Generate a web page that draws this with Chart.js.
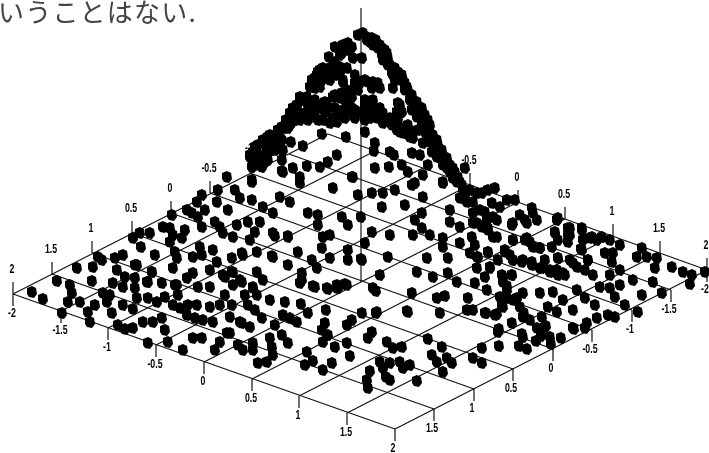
<!DOCTYPE html>
<html><head><meta charset="utf-8">
<style>
html,body{margin:0;padding:0;background:#fff;width:709px;height:453px;overflow:hidden}
#wrap{position:relative;width:709px;height:453px}
#cap{position:absolute;left:-2px;top:-5px;font:400 26px/32px "Noto Sans CJK JP",serif;letter-spacing:1.2px;color:#444;white-space:nowrap;z-index:2}
canvas{display:block}
</style>
<script src="https://cdn.jsdelivr.net/npm/chart.js@4"></script>
</head><body><div id="wrap"><div id="cap">いうことはない.</div><canvas id="c" width="709" height="453"></canvas></div>
<script>
const frontLeftEdge=[[13,294],[61,311],[108,328],[156,345],[204,362],[252,379],[299,396],[347,413],[395,429]];
const backRightEdge=[[328,134],[375,151],[423,168],[470,185],[518,202],[565,219],[613,236],[660,253],[707,270]];
const backLeftEdge=[[13,294],[52,274],[92,253],[132,233],[171,213],[210,193],[250,173],[289,154],[328,134]];
const frontRightEdge=[[395,429],[434,409],[474,389],[513,369],[553,349],[592,330],[632,310],[671,290],[707,270]];
const zAxis=[[361,8],[361,282]];
const frontLeftLabels=["-2","-1.5","-1","-0.5","0","0.5","1","1.5",""];
const frontRightLabels=["2","1.5","1","0.5","0","-0.5","-1","-1.5","-2"];
const backLeftLabels=["2","1.5","1","0.5","0","-0.5","-1","",""];
const backRightLabels=["","","","-0.5","0","0.5","1","1.5","2"];
// Scatter marks, in plane coordinates
const peakDots=[[363,33],[367,37],[370,42],[376,40],[380,45],[385,50],[382,55],[387,62],[390,65],[393,75],[402,75],[405,83],[408,90],[417,102],[420,113],[425,122],[430,132],[437,140],[442,150],[447,158],[453,168],[458,177],[465,168],[435,145],[453,178],[460,182],
[343,45],[338,48],[348,43],[342,53],[329,57],[353,58],[362,58],
[320,70],[330,68],[340,67],[315,78],[312,85],[320,87],[328,78],[347,68],[355,75],[343,82],[355,88],[335,95],[347,90],[345,100],[365,80],[368,82],[378,83],[372,88],[365,100],[393,88],
[253,152],[257,162],[252,167],[262,167],[265,142],[268,153],[275,135],[277,147],[282,127],[282,150],[290,113],[295,120],[288,128],[300,100],[300,113],[307,103],[310,115],[320,105],[325,102],[318,120],[330,123],[328,108],[338,115],[343,110],[352,108],[358,112],[365,115],[372,103],[375,108],[380,115],[385,120],[392,125],[400,132],[410,137],[365,132],[400,105],[398,118],[407,127],[412,110],[420,115],[422,125],[418,130],[428,135],
[322,134],[346,137],[291,142],[303,146],[337,155],[282,160],[282,171],[293,168],[307,166],[320,167],[328,162],[300,177],[353,177],[375,143],[374,151],[375,168],[389,167],[390,152],[394,155],[402,165],[412,153],[420,155],[428,165],[408,172],[423,175],[443,182],[415,183],[252,180]];
const ridgeDots=[[253,165],[260,158],[267,150],[272,142],[278,137],[285,128],[292,122],[298,115],[305,113],[315,115],[323,120],[333,118],[347,113],[355,118],[365,120],[377,118],[383,123],[397,130],[403,133],[413,138],[423,143],[432,152],[437,157],[443,165],[450,172],[457,182],[425,132],[430,142],[435,150],[440,158],[447,168],[453,178],
[297,105],[303,100],[312,102],[320,108],[327,103],[297,118],[308,120],[337,122],[373,100],[380,108],[383,113],[372,112],
[398,103],[402,112],[397,112],[398,123],[408,125],[413,110],[417,117],[422,108],[423,117],[413,132],
[398,72],[403,80],[407,87],[412,95],[387,53],[382,48],[373,45],[367,40],[383,60],[388,65],[392,73],
[335,47],[347,50],[340,55],[352,47],[317,75],[323,68],[335,68],[330,80],[340,72],[318,82],[325,75],[310,87],[315,88],
[340,98],[333,97],[342,93],[343,80],[355,83],[358,90],[352,97],[360,83],[373,82],[380,88],[365,102],[347,105],
[250,157],[255,147],[263,140],[270,135],[275,143],[283,150],[280,135],[260,155],[265,162],[272,150],
[250,155],[258,145],[268,137],[278,130],[286,120],[293,108],[300,97],[307,97],[315,100],[290,125],[282,140],[275,150],[268,160],[300,120],[312,110],[325,112],[335,108],[345,118],[355,110],[365,108],[370,118],[390,118],[395,125],
[425,115],[430,125],[428,120],[433,135],[438,145],[445,160],[450,165],[455,172],[462,185],
[322,80],[335,75],[312,80],[318,72],[328,72],[335,62],[358,35],[372,38],[378,48],[388,58],[395,68],[400,80],[405,90],[395,80],[410,100],[415,107]];
const rightCloseDots=[[412,185],[443,183],[395,190],[372,193],[383,193],[382,207],[405,205],[423,197],[422,213],[415,220],[422,228],[430,235],[450,210],[450,222],[460,227],[372,232],[390,235],[413,235],[365,243],[443,238],[443,247],[448,258],[427,258],[388,257],[460,243],[472,237],[470,253],[478,257],[417,272],[433,277],[380,275],[448,273],[457,282],[477,268],[490,268],[485,277],[475,283],[503,277],[512,275],[498,260],[488,252],[510,255],[505,250],[513,260],[523,260],[532,262],[542,268],[557,270],[550,272],[563,273],[573,263],[588,260],[558,258],[582,250],[568,242],[552,247],[540,248],[530,242],[527,238],[513,240],[513,223],[527,223],[520,215],[537,220],[532,208],[558,218],[555,232],[558,240],[570,228],[568,235],[582,228],[590,238],[597,240],
[463,190],[467,202],[473,202],[460,198],[477,193],[488,190],[495,188],[492,203],[493,217],[487,220],[482,227],[473,213],[477,223],[488,230],[497,237],[507,200],[515,200],[500,207],[470,190],[482,193],[480,210],[485,212],[465,195]];
const middleDots=[[172,215],[227,177],[218,190],[235,190],[202,195],[197,202],[217,202],[240,198],[252,200],[252,182],[228,210],[263,207],[273,213],[280,197],[290,202],[300,183],[283,172],[187,210],[192,213],[205,210],[198,217],[202,227],[215,222],[220,227],[223,233],[237,225],[248,222],[260,222],[255,232],[233,237],[250,240],[273,233],[288,237],[308,213],[318,215],[318,225],[333,188],[352,177],[358,195],[342,217],[348,225],[361,217],[323,237],[330,235],[322,248],[330,258],[312,260],[317,268],[298,252],[288,265],[302,273],[302,280],[337,285],[348,260],[348,250],[362,260],[273,257],[257,252],[243,255],[232,258],[213,250],[217,262],[200,247],[202,255],[193,257],[175,252],[177,258],[170,242],[173,235],[182,238],[185,230],[163,227],[170,228],[133,238],[140,233],[150,233],[141,247],[155,255],[135,265],[152,272],[173,268],[193,273],[187,278],[210,270],[225,277],[233,272],[240,280],[257,272],[263,280],[253,287],[135,278],[148,282],[162,283],[177,285],[198,287],[210,287],[233,285]];
const leftDots=[[32,292],[43,299],[57,281],[70,285],[72,293],[68,302],[80,302],[62,313],[88,312],[90,322],[95,305],[92,281],[77,268],[93,267],[98,257],[102,260],[115,258],[123,255],[117,270],[137,265],[125,277],[113,283],[103,293],[110,295],[107,302],[123,287],[135,288],[137,298],[123,305],[133,309],[112,313],[118,325],[125,329],[133,328],[143,322],[153,322],[148,343],[165,330],[168,342],[183,350],[193,338],[202,338],[147,282],[152,272],[175,285],[178,295],[148,298],[157,302],[165,297],[173,305],[180,308],[188,305],[197,305],[210,307],[220,305],[187,315],[195,318],[203,320],[213,322],[162,318],[220,342],[230,333],[238,345],[215,350],[242,253],[232,272],[242,282],[223,275],[245,295],[225,295],[232,305],[230,317],[240,322],[227,333],[275,236],[288,236],[272,256],[328,289],[338,288],[345,284],[313,286]];
const frontDots=[[253,288],[257,295],[270,300],[285,302],[301,304],[248,305],[255,310],[262,318],[283,315],[290,318],[297,322],[308,313],[326,310],[362,313],[377,312],[408,312],[440,313],[412,293],[437,298],[445,296],[468,298],[467,310],[473,310],[373,288],[347,285],[337,288],[327,288],[315,287],[300,283],[325,323],[352,320],[347,325],[322,330],[323,342],[328,335],[335,347],[347,343],[350,356],[242,323],[250,327],[275,325],[282,335],[288,343],[253,343],[243,350],[253,350],[270,338],[272,347],[273,355],[267,362],[258,363],[307,352],[305,365],[313,361],[332,363],[323,370],[372,332],[368,338],[387,342],[393,348],[402,347],[428,339],[442,347],[432,355],[437,362],[447,358],[452,363],[443,372],[473,358],[380,362],[383,368],[390,363],[400,362],[403,368],[410,365],[370,371],[386,377],[390,380],[417,381],[367,380],[368,388],[482,363],[482,348],[376,291],[376,313],[361,259],[407,311]];
const farRightDots=[[557,220],[555,233],[568,228],[570,235],[582,230],[583,240],[592,237],[602,237],[610,240],[620,245],[605,253],[613,253],[612,262],[588,260],[581,249],[637,257],[642,248],[647,257],[657,258],[655,268],[620,270],[633,280],[653,282],[662,293],[642,295],[672,267],[683,272],[692,275],[690,284],[705,272],[558,258],[570,260],[577,267],[585,270],[593,275],[610,275],[600,287],[610,288],[620,285],[615,297],[625,305],[638,312],[577,290],[585,298],[595,305],[597,318],[608,315],[615,317],[587,323],[585,328],[573,310],[563,300],[548,307],[557,312],[573,328],[553,292],[540,293],[523,293],[512,275],[502,275],[487,290],[503,282],[507,290],[500,297],[513,300],[520,307],[503,307],[485,313],[495,315],[530,320],[542,317],[545,327],[537,328],[523,317],[512,323],[498,332],[523,337],[550,337],[477,257],[490,267],[488,252],[505,252],[513,260],[522,262],[532,265],[540,268],[550,270],[558,275],[565,275],[533,247],[540,248],[545,260],[525,240],[512,225],[525,220],[533,213],[513,240],[497,220],[488,228],[493,237],[475,245],[473,223],
[499,329],[499,346],[519,346],[527,349],[522,334],[541,336],[546,326],[551,344],[561,338],[574,329],[536,341],[507,286],[507,298],[502,306],[517,298],[524,313],[497,314],[486,313]];

function pts(a){return a.map(p=>({x:p[0],y:p[1]}));}
const blob=document.createElement('canvas');blob.width=10;blob.height=12;
(function(){const g=blob.getContext('2d');g.fillStyle='#000';g.beginPath();g.moveTo(0,2);g.lineTo(5,0);g.lineTo(9,2);g.lineTo(10,8);g.lineTo(7,12);g.lineTo(2,11);g.lineTo(0,8);g.closePath();g.fill();})();

const allDots=[].concat(peakDots,ridgeDots,rightCloseDots,middleDots,leftDots,frontDots,farRightDots);
const lineStyle={type:'line',showLine:true,borderColor:'#111',borderWidth:1.2,pointRadius:0,fill:false,order:5,tension:0};
const datasets=[{type:'scatter',label:'points',data:pts(allDots),pointStyle:blob,pointRadius:5,order:1,showLine:false}];
frontLeftEdge.forEach((p,i)=>datasets.push({...lineStyle,label:'gx'+i,data:pts([p,backRightEdge[i]])}));
backLeftEdge.forEach((p,i)=>datasets.push({...lineStyle,label:'gy'+i,data:pts([p,frontRightEdge[i]])}));
datasets.push({...lineStyle,label:'z',data:pts(zAxis),borderColor:'#444',borderWidth:1.5});
const tickLen=12;
function addTicks(edge,labels,dir){edge.forEach((p,i)=>{if(labels[i]==="")return;datasets.push({...lineStyle,label:'t',data:pts([p,[p[0],p[1]+dir*tickLen]])});});}
addTicks(frontLeftEdge,frontLeftLabels,1);addTicks(frontRightEdge,frontRightLabels,1);addTicks(backLeftEdge,backLeftLabels,-1);addTicks(backRightEdge,backRightLabels,-1);

const tickText={id:'tickText',beforeDatasetsDraw(ch){const c=ch.ctx,sx=ch.scales.x,sy=ch.scales.y;c.save();c.fillStyle='#000';c.font='bold 11px "Liberation Sans"';c.textAlign='center';c.textBaseline='middle';
 const put=(edge,labels,dx,dy)=>edge.forEach((p,i)=>{if(!labels[i])return;c.save();c.translate(sx.getPixelForValue(p[0]+dx),sy.getPixelForValue(p[1]+dy));c.scale(0.8,1.15);c.fillText(labels[i],0,0);c.restore();});
 put(frontLeftEdge,frontLeftLabels,-1,20);put(frontRightEdge,frontRightLabels,-2,20);put(backLeftEdge,backLeftLabels,-1,-24);put(backRightEdge,backRightLabels,-1,-24);c.restore();}};

new Chart(document.getElementById('c'),{type:'scatter',data:{datasets},plugins:[tickText],options:{responsive:false,animation:false,layout:{padding:0,autoPadding:false},
 plugins:{legend:{display:false},tooltip:{enabled:false},title:{display:false}},
 scales:{x:{type:'linear',min:0,max:709,display:false},y:{type:'linear',min:0,max:453,reverse:true,display:false}}}});
</script></body></html>
